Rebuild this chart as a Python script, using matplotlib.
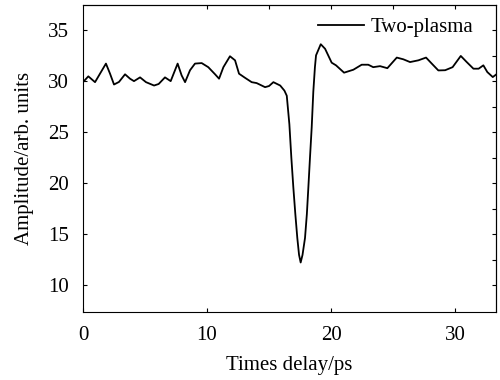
import numpy as np
from matplotlib import pyplot as plt

# values
delay = [0.0, 0.43, 0.97, 1.37, 1.85, 2.18, 2.5, 2.9, 3.39, 3.79, 4.11, 4.6, 5.08, 5.73, 6.1,
         6.61, 7.07, 7.63, 7.95, 8.23, 8.63, 9.03, 9.57, 10.1, 10.65, 10.97, 11.32, 11.85,
         12.26, 12.58, 13.06, 13.6, 14.0, 14.68, 15.0, 15.35, 15.9, 16.24, 16.43, 16.64,
         16.8, 16.96, 17.12, 17.28, 17.42, 17.55, 17.7, 17.9, 18.05, 18.17, 18.3, 18.44,
         18.57, 18.7, 18.79, 19.17, 19.52, 20.05, 20.4, 21.05, 21.8, 22.47, 23.0, 23.4,
         23.95, 24.54, 25.3, 25.83, 26.37, 27.04, 27.66, 28.12, 28.65, 29.2, 29.8, 30.46,
         30.94, 31.48, 31.9, 32.28, 32.6, 33.04, 33.4]
amplitude = [29.93, 30.5, 29.93, 30.76, 31.75, 30.76, 29.7, 29.95, 30.7, 30.27, 30.03, 30.4,
             29.93, 29.6, 29.75, 30.4, 30.03, 31.75, 30.6, 29.93, 31.1, 31.75, 31.8, 31.4,
             30.7, 30.27, 31.4, 32.47, 32.07, 30.76, 30.36, 29.93, 29.84, 29.44, 29.55, 29.93,
             29.6, 29.1, 28.6, 25.8, 22.5, 19.6, 17.0, 14.65, 13.0, 12.25, 13.0, 14.65, 17.0,
             19.6, 22.5, 25.5, 29.0, 31.4, 32.56, 33.65, 33.2, 31.84, 31.58, 30.86, 31.15,
             31.64, 31.64, 31.4, 31.5, 31.3, 32.34, 32.17, 31.9, 32.07, 32.34, 31.75, 31.08,
             31.1, 31.4, 32.5, 31.9, 31.25, 31.25, 31.58, 30.92, 30.43, 30.76]

plt.rcParams['font.family'] = ['Liberation Serif', 'DejaVu Serif']
plt.rcParams['font.size'] = 15

fig = plt.figure(figsize=(5, 3.8), dpi=100)
ax = fig.add_axes([0.166, 0.179, 0.826, 0.808])

ax.plot(delay, amplitude, color="black", linewidth=1.3, label="Two-plasma")

ax.set_xlim(0, 33.3)
ax.set_ylim(7.4, 37.5)
ax.set_xticks([0, 10, 20, 30])
ax.set_yticks([10, 15, 20, 25, 30, 35])
ax.tick_params(direction="in", length=3, width=0.8, pad=10)

# extra ticks on top and right edges
top = ax.secondary_xaxis("top")
top.set_xticks([10, 15, 20, 25, 30])
top.tick_params(direction="in", length=3, width=0.8, labeltop=False)
right = ax.secondary_yaxis("right")
right.set_yticks(np.arange(10, 37.5, 2.5))
right.tick_params(direction="in", length=3, width=0.8, labelright=False)

ax.set_xlabel("Times delay/ps", labelpad=8)
ax.set_ylabel("Amplitude/arb. units", labelpad=10)
ax.legend(loc="upper right", bbox_to_anchor=(0.975, 1.0), frameon=False,
          handlelength=2.2, handletextpad=0.3, borderaxespad=0.2)

fig.savefig("out.png")
